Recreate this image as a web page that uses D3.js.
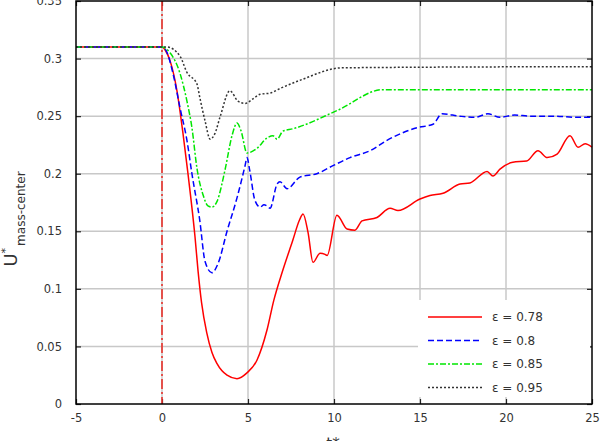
<!DOCTYPE html>
<html>
<head>
<meta charset="utf-8">
<script src="https://cdn.jsdelivr.net/npm/d3@7"></script>
<style>
  body { margin: 0; background: #fff; }
  text { font-family: "DejaVu Sans", sans-serif; fill: #333; }
</style>
</head>
<body>
<div id="chart-area"></div>
<script>
// tick labels
const xTicks = [-5, 0, 5, 10, 15, 20, 25];
const yTicks = [0, 0.05, 0.1, 0.15, 0.2, 0.25, 0.3, 0.35];

// series, [t*, U*] pairs
const eps078 = [[-5,0.31],[0,0.31],[0.2,0.307],[0.47,0.298],[0.87,0.272],[1.22,0.235],[1.51,0.2],[1.92,0.145],
  [2.1,0.115],[2.3,0.088],[2.6,0.062],[2.9,0.045],[3.2,0.035],[3.78,0.025],[4.36,0.022],[4.94,0.027],[5.52,0.038],
  [6.1,0.064],[6.5,0.09],[7.0,0.115],[7.6,0.142],[8.0,0.16],[8.2,0.165],[8.49,0.149],[8.78,0.123],
  [9.19,0.131],[9.48,0.13],[9.6,0.129],[10.17,0.164],[10.76,0.152],[11.22,0.151],[11.63,0.159],[12.5,0.162],
  [13.26,0.17],[13.72,0.168],[15.0,0.178],[15.58,0.181],[16.34,0.183],[17.33,0.191],[17.9,0.192],[18.9,0.202],
  [19.24,0.198],[19.65,0.204],[20.4,0.21],[21.2,0.211],[21.86,0.22],[22.4,0.214],[22.97,0.217],[23.72,0.233],
  [24.19,0.223],[24.6,0.226],[25,0.223]];
const eps080 = [[-5,0.31],[0,0.31],[0.2,0.308],[0.64,0.287],[1.05,0.257],[1.45,0.229],[1.74,0.2],[2.2,0.159],
  [2.5,0.124],[2.9,0.114],[3.26,0.122],[3.78,0.15],[4.36,0.179],[4.83,0.207],[4.94,0.214],[5.1,0.203],
  [5.4,0.177],[5.7,0.171],[5.93,0.173],[6.1,0.172],[6.28,0.17],[6.69,0.191],[6.86,0.193],[7.27,0.187],
  [8.02,0.197],[9.0,0.2],[9.94,0.207],[10.93,0.214],[12.1,0.22],[13.08,0.229],[14.83,0.24],[15.76,0.243],
  [16.28,0.252],[17.3,0.25],[18.2,0.249],[18.95,0.252],[19.65,0.249],[20.5,0.251],[21.4,0.25],[22.85,0.25],
  [24.0,0.249],[25,0.249]];
const eps085 = [[-5,0.31],[0,0.31],[0.47,0.305],[1.05,0.287],[1.45,0.263],[1.74,0.24],[2.03,0.205],[2.4,0.181],
  [2.67,0.172],[2.9,0.171],[3.2,0.176],[3.66,0.203],[4.07,0.233],[4.36,0.244],[4.6,0.237],[4.94,0.218],
  [5.52,0.222],[6.1,0.231],[6.45,0.233],[6.69,0.23],[7.03,0.237],[7.6,0.239],[10.2,0.255],[12.85,0.273],
  [25,0.273]];
const eps095 = [[-5,0.31],[0.3,0.31],[1.05,0.302],[1.45,0.288],[2.03,0.278],[2.2,0.266],[2.5,0.246],[2.8,0.23],
  [3.08,0.235],[3.37,0.249],[3.95,0.272],[4.42,0.263],[4.83,0.261],[5.29,0.265],[5.7,0.269],[6.28,0.27],
  [6.86,0.274],[8.0,0.281],[10.5,0.292],[25,0.293]];

const series = [
  { name: "ε = 0.78", data: eps078, color: "#ff0000", dash: null },
  { name: "ε = 0.8", data: eps080, color: "#0000ff", dash: "6,3" },
  { name: "ε = 0.85", data: eps085, color: "#00e600", dash: "6,2,2,2" },
  { name: "ε = 0.95", data: eps095, color: "#333333", dash: "2,2" }
];

const MARGIN = { LEFT: 76, RIGHT: 16, TOP: 1, BOTTOM: 37 };
const WIDTH = 608 - MARGIN.LEFT - MARGIN.RIGHT;
const HEIGHT = 441 - MARGIN.TOP - MARGIN.BOTTOM;

const svg = d3.select("#chart-area").append("svg")
  .attr("width", 608)
  .attr("height", 441);

const g = svg.append("g")
  .attr("transform", `translate(${MARGIN.LEFT}, ${MARGIN.TOP})`);

const x = d3.scaleLinear().domain([-5, 25]).range([0, WIDTH]);
const y = d3.scaleLinear().domain([0, 0.35]).range([HEIGHT, 0]);

// grid
g.append("g").selectAll("line").data(xTicks.slice(1, -1)).enter().append("line")
  .attr("x1", d => x(d)).attr("x2", d => x(d))
  .attr("y1", 0).attr("y2", HEIGHT)
  .attr("stroke", "#c8c8c8").attr("stroke-width", 1.5);
g.append("g").selectAll("line").data(yTicks.slice(1, -1)).enter().append("line")
  .attr("x1", 0).attr("x2", WIDTH)
  .attr("y1", d => y(d)).attr("y2", d => y(d))
  .attr("stroke", "#c8c8c8").attr("stroke-width", 1.5);

// axes with inward ticks
const fmt = d => String(+d.toFixed(2));
g.append("g").attr("transform", `translate(0, ${HEIGHT})`)
  .call(d3.axisBottom(x).tickValues(xTicks).tickSizeInner(-5).tickSizeOuter(0).tickPadding(10).tickFormat(fmt));
g.append("g")
  .call(d3.axisLeft(y).tickValues(yTicks).tickSizeInner(-5).tickSizeOuter(0).tickPadding(14).tickFormat(fmt));
g.append("g")
  .call(d3.axisTop(x).tickValues(xTicks).tickSizeInner(-5).tickSizeOuter(0).tickFormat(""));
g.append("g").attr("transform", `translate(${WIDTH}, 0)`)
  .call(d3.axisRight(y).tickValues(yTicks).tickSizeInner(-5).tickSizeOuter(0).tickFormat(""));
g.selectAll(".domain").remove();
g.selectAll(".tick line").attr("stroke", "#222").attr("stroke-width", 1.2);
g.selectAll(".tick text").attr("font-size", "11.5px").attr("fill", "#333")
  .attr("font-family", "DejaVu Sans, sans-serif");

// vertical marker at t* = 0
g.append("line")
  .attr("x1", x(0)).attr("x2", x(0)).attr("y1", 0).attr("y2", HEIGHT)
  .attr("stroke", "#e8302a").attr("stroke-width", 1.6)
  .attr("stroke-dasharray", "10,3,2,3");

// curves
const line = d3.line()
  .x(d => x(d[0]))
  .y(d => y(d[1]))
  .curve(d3.curveMonotoneX);

g.selectAll(".curve").data(series).enter().append("path")
  .attr("class", "curve")
  .attr("d", d => line(d.data))
  .attr("fill", "none")
  .attr("stroke", d => d.color)
  .attr("stroke-width", 1.5)
  .attr("stroke-dasharray", d => d.dash);

// frame
g.append("rect")
  .attr("width", WIDTH).attr("height", HEIGHT)
  .attr("fill", "none").attr("stroke", "#000").attr("stroke-width", 1.5);

// legend
const legend = g.append("g").attr("transform", `translate(${WIDTH - 174}, ${HEIGHT - 104})`);
legend.append("rect").attr("width", 172).attr("height", 97).attr("fill", "#fff");
const item = legend.selectAll(".item").data(series).enter().append("g")
  .attr("transform", (d, i) => `translate(0, ${17 + i * 23.5})`);
item.append("line")
  .attr("x1", 10).attr("x2", 64)
  .attr("stroke", d => d.color).attr("stroke-width", 1.5)
  .attr("stroke-dasharray", d => d.dash);
item.append("text")
  .attr("x", 74).attr("dy", "0.35em")
  .attr("font-size", "12px")
  .text(d => d.name);

// axis labels
g.append("text")
  .attr("x", WIDTH / 2 - 1).attr("y", HEIGHT + 45)
  .attr("font-size", "15px").attr("text-anchor", "middle")
  .text("t*");

const yl = svg.append("text")
  .attr("transform", "translate(17, 219) rotate(-90)")
  .attr("text-anchor", "middle");
yl.append("tspan").attr("font-size", "18px").text("U");
yl.append("tspan").attr("font-size", "11px").attr("dy", -8).text("*");
yl.append("tspan").attr("font-size", "12px").attr("dx", 2).attr("dy", 16).text("mass-center");
</script>
</body>
</html>
